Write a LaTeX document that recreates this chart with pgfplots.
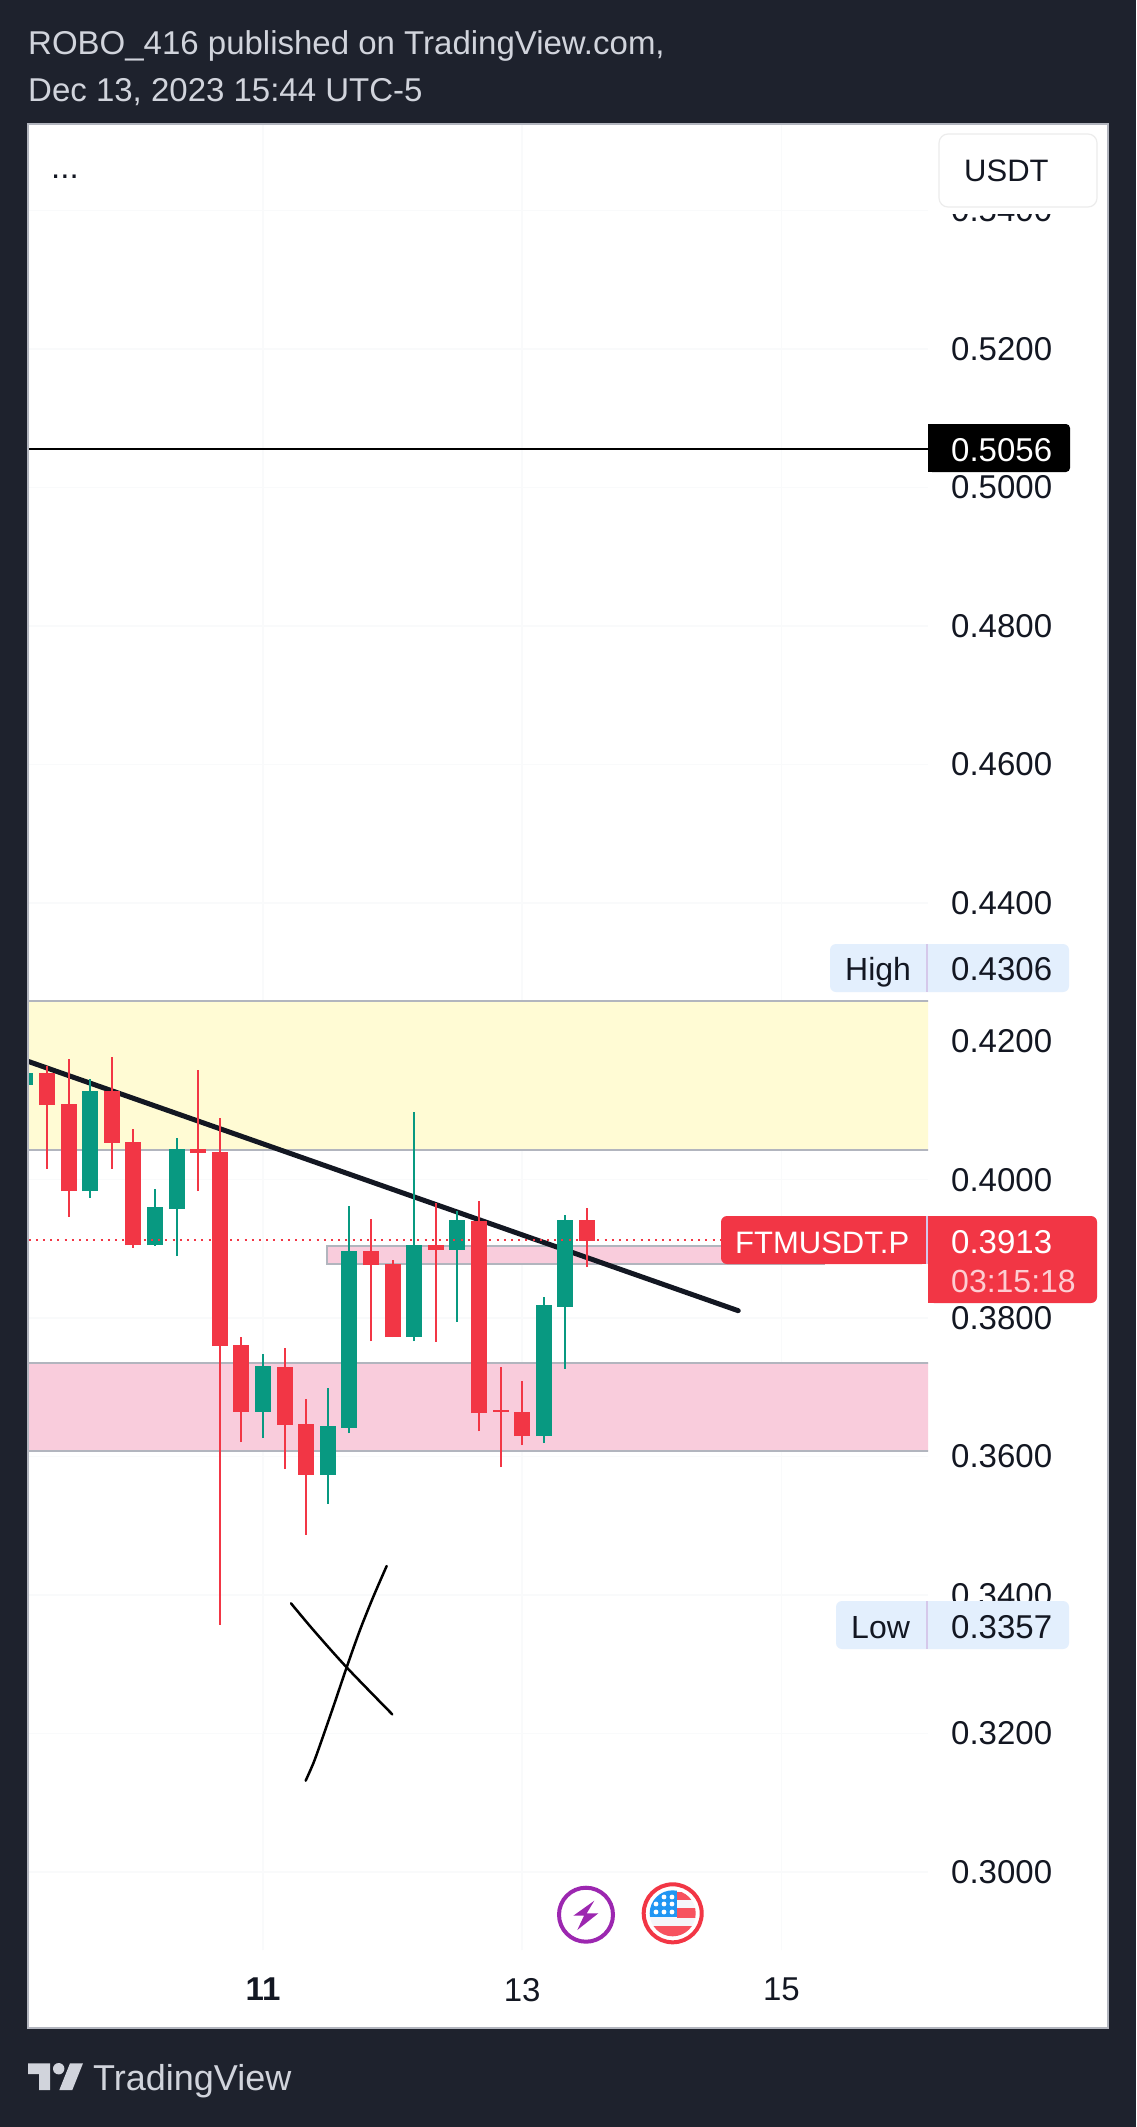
\documentclass[border=0pt]{standalone}
\usepackage{pgfplots}
\pgfplotsset{compat=1.18}
\usepackage{pgfplotstable}
\usepackage{fontspec}
\setmainfont{Liberation Sans}
\definecolor{bg}{HTML}{1E222D}
\definecolor{txt}{HTML}{131722}
\definecolor{lite}{HTML}{D1D4DC}
\definecolor{cred}{HTML}{F23645}
\definecolor{cgreen}{HTML}{089981}
\definecolor{edge}{HTML}{B2B5BE}
\definecolor{yellowz}{HTML}{FFFBD4}
\definecolor{pinkz}{HTML}{F9CCDC}
\definecolor{gridc}{HTML}{F9FAFB}
\definecolor{bluebox}{HTML}{E3EFFD}
\definecolor{sep}{HTML}{D5C8EA}
\definecolor{purp}{HTML}{9C27B0}
\definecolor{flagw}{HTML}{F5F6FA}
\definecolor{flagr}{HTML}{F7525F}
\definecolor{flagb}{HTML}{2196F3}
\definecolor{pale}{HTML}{FDCDD2}
\newcommand{\fs}[1]{\fontsize{#1}{#1}\selectfont}

\pgfplotstableread{
i top bot hi lo
1 0.41542 0.41079 0.41643 0.40155
2 0.41094 0.39837 0.41744 0.39462
4 0.41282 0.40531 0.41773 0.40155
5 0.40545 0.39057 0.40733 0.39014
8 0.40444 0.40386 0.41585 0.39837
9 0.40401 0.37598 0.40892 0.33570
10 0.37613 0.36645 0.37728 0.36211
12 0.37295 0.36457 0.37569 0.35821
13 0.36471 0.35735 0.36832 0.34868
16 0.38970 0.38768 0.39433 0.37670
17 0.38783 0.37728 0.38840 0.37728
19 0.39057 0.38985 0.39664 0.37656
21 0.39404 0.36630 0.39693 0.36370
22 0.36674 0.36645 0.37295 0.35850
23 0.36645 0.36298 0.37093 0.36168
26 0.39418 0.39115 0.39592 0.38739
}\redc
\pgfplotstableread{
i top bot hi lo
0 0.41542 0.41368 0.41600 0.41300
3 0.41282 0.39837 0.41455 0.39736
6 0.39606 0.39057 0.39866 0.39043
7 0.40444 0.39577 0.40603 0.38898
11 0.37309 0.36645 0.37483 0.36269
14 0.36442 0.35735 0.36991 0.35316
15 0.38970 0.36414 0.39620 0.36341
18 0.39057 0.37728 0.40978 0.37670
20 0.39418 0.38985 0.39548 0.37945
24 0.38190 0.36298 0.38306 0.36197
25 0.39418 0.38162 0.39490 0.37266
}\greenc

\newcommand{\candles}[2]{%
 \addplot[draw=none, no marks, forget plot, error bars/.cd, y dir=plus, y explicit, error mark=none,
   error bar style={line width=2pt, draw=#2, solid}]
   table[x=i, y=lo, y error plus expr=\thisrow{hi}-\thisrow{lo}] {#1};
 \addplot[draw=none, no marks, forget plot, error bars/.cd, y dir=plus, y explicit, error mark=none,
   error bar style={line width=16pt, draw=#2, solid}]
   table[x=i, y=bot, y error plus expr=\thisrow{top}-\thisrow{bot}] {#1};
}

\begin{document}
\begin{tikzpicture}
\path[use as bounding box, fill=bg] (0,0) rectangle (1136pt,-2127pt);
\fill[white] (28pt,-124pt) rectangle (1108pt,-2028pt);
\begin{axis}[
  at={(28pt,-1950pt)}, anchor=south west,
  width=900pt, height=1826pt, scale only axis,
  xmin=0.1204, xmax=41.787, ymin=0.28873, ymax=0.5525,
  axis line style={draw=none},
  major tick length=0pt,
  grid=major, major grid style={gridc, line width=1.5pt},
  xtick={11,23,35}, xticklabels={\bfseries 11,13,15},
  ytick={0.30,0.32,0.34,0.36,0.38,0.40,0.42,0.44,0.46,0.48,0.50,0.52,0.54},
  yticklabel pos=right, scaled y ticks=false,
  yticklabel style={/pgf/number format/fixed, /pgf/number format/fixed zerofill,
     /pgf/number format/precision=4, /pgf/number format/assume math mode=true,
     anchor=west, inner sep=0pt, xshift=23pt, font=\fs{33}, text=txt},
  xticklabel style={anchor=north, inner sep=0pt, yshift=-28pt, font=\fs{33}, text=txt},
]
% zones
\addplot[fill=yellowz, draw=edge, line width=2pt] coordinates {(-2,0.42582)(50,0.42582)(50,0.40434)(-2,0.40434)} -- cycle;
\addplot[fill=pinkz, draw=edge, line width=2pt] coordinates {(-2,0.37357)(50,0.37357)(50,0.36086)(-2,0.36086)} -- cycle;
\addplot[fill=pinkz, draw=edge, line width=2pt] coordinates {(13.96,0.39043)(36.97,0.39043)(36.97,0.38783)(13.96,0.38783)} -- cycle;
% horizontal level
\addplot[black, line width=2pt] coordinates {(-2,0.5056)(50,0.5056)};
% trend line
\addplot[txt, line width=5pt, line cap=round] coordinates {(-0.9,0.41822)(33.0,0.38108)};
% hand-drawn cross
\addplot[black, line width=2.5pt, smooth, tension=0.5, line cap=round] coordinates {(12.296,0.33881)(13.33,0.33496)(14.873,0.32956)(16.987,0.32277)};
\addplot[black, line width=2.5pt, smooth, tension=0.5, line cap=round] coordinates {(16.725,0.34420)(16.108,0.33977)(15.49,0.33496)(14.873,0.32956)(14.256,0.32388)(13.639,0.31834)(13.33,0.31570)(12.975,0.31319)};
% candles
\candles{\redc}{cred}
\candles{\greenc}{cgreen}
% last price
\addplot[cred, line width=2pt, dash pattern=on 2pt off 5.2pt] coordinates {(0.15,0.3913)(50,0.3913)};
\end{axis}

\begin{scope}[x=1pt,y=-1pt]
% cover price-scale under the currency button
\fill[white] (929,125) rectangle (1107,214);
\draw[edge, line width=1.2pt] (28,2028) -- (28,124) -- (1108,124) -- (1108,2028) -- cycle;
% header
\node[anchor=base west, inner sep=0, text=lite, font=\fs{33}] at (28,55) {ROBO\_416 published on TradingView.com,};
\node[anchor=base west, inner sep=0, text=lite, font=\fs{33}] at (28,102) {Dec 13, 2023 15:44 UTC-5};
\node[anchor=base west, inner sep=0, text=txt, font=\fs{33}] at (51,179) {...};
% currency button
\draw[fill=white, draw=gray!15, line width=1.2pt, rounded corners=9] (939,134) rectangle (1097,207);
\node[anchor=base west, inner sep=0, text=txt, font=\fs{31}] at (964,182) {USDT};
% black level label
\fill[black, rounded corners=4] (928,424) rectangle (1070,472);
\fill[black] (928,424) rectangle (940,472);
\node[anchor=base west, inner sep=0, text=white, font=\fs{33}] at (951,461) {0.5056};
% High
\fill[bluebox, rounded corners=6] (830,944) rectangle (1069,992);
\fill[sep] (926,944) rectangle (928,992);
\node[anchor=base west, inner sep=0, text=txt, font=\fs{32}] at (845,980) {High};
\node[anchor=base west, inner sep=0, text=txt, font=\fs{33}] at (951,980) {0.4306};
% Low
\fill[bluebox, rounded corners=6] (836,1601) rectangle (1069,1649);
\fill[sep] (926,1601) rectangle (928,1649);
\node[anchor=base west, inner sep=0, text=txt, font=\fs{32}] at (851,1638) {Low};
\node[anchor=base west, inner sep=0, text=txt, font=\fs{33}] at (951,1638) {0.3357};
% current price labels
\fill[cred, rounded corners=6] (721,1216) rectangle (928,1264);
\fill[cred] (900,1216) rectangle (928,1264);
\fill[cred, rounded corners=6] (928,1216) rectangle (1097,1303);
\fill[cred] (928,1216) rectangle (945,1303);
\fill[sep] (926,1216) rectangle (928,1264);
\node[anchor=base west, inner sep=0, text=white, font=\fs{31}] at (735,1253) {FTMUSDT.P};
\node[anchor=base west, inner sep=0, text=white, font=\fs{33}] at (951,1253) {0.3913};
\node[anchor=base west, inner sep=0, text=pale, font=\fs{32}] at (951,1292) {03:15:18};
% purple icon
\draw[line width=4pt, draw=purp] (586,1914.7) circle (27);
\fill[purp] (594.3,1900.7) -- (573.3,1915.7) -- (584,1915.7) -- (577.3,1930) -- (598.3,1913.3) -- (586.7,1913.3) -- cycle;
% flag icon
\draw[line width=4pt, draw=cred] (672.7,1913.3) circle (29);
\begin{scope}
\clip (672.7,1913.3) circle (23);
\fill[flagw] (640,1880) rectangle (705,1945);
\fill[flagr] (677,1892) rectangle (700,1900);
\fill[flagr] (677,1908) rectangle (700,1918);
\fill[flagr] (640,1926) rectangle (705,1945);
\fill[flagb] (645,1885) rectangle (677,1917);
\foreach \sx/\sy in {664/1897,672/1897,656/1904,664/1904,672/1904,656/1912,664/1912,672/1912}
  \fill[white] (\sx,\sy) circle (2.4);
\end{scope}
% logo
\fill[lite] (28,2063.3) -- (50,2063.3) -- (50,2090) -- (39,2090) -- (39,2074) -- (28,2074) -- cycle;
\fill[lite] (58.7,2068.7) circle (5.7);
\fill[lite] (70,2063.3) -- (83,2063.3) -- (72.3,2090) -- (59.3,2090) -- cycle;
\node[anchor=base west, inner sep=0, text=lite, font=\fs{36}] at (93,2090.7) {TradingView};
\end{scope}
\end{tikzpicture}
\end{document}
